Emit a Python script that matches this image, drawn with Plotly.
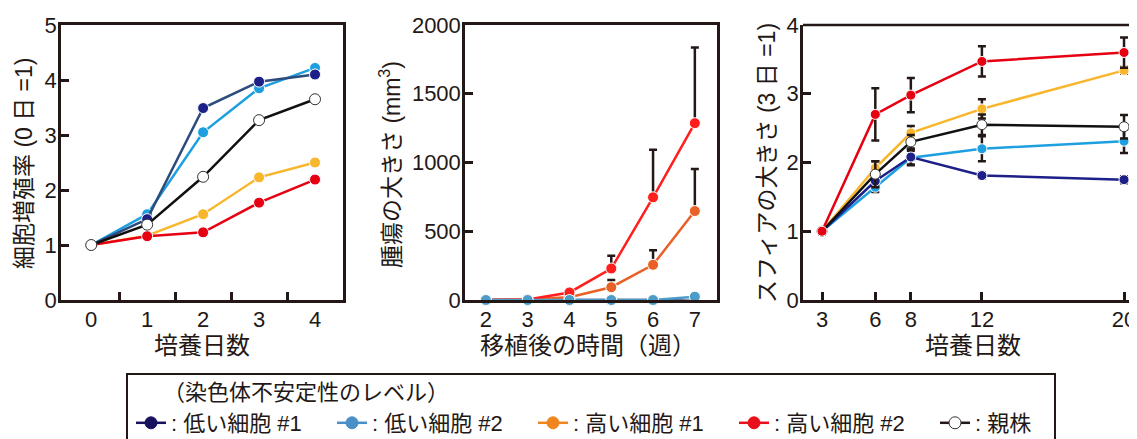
import plotly.graph_objects as go

# ---------------- data ----------------
# Panel 1: cell proliferation (day 0 = 1)
days1 = [0, 1, 2, 3, 4]
p1_low1 = [1.0, 1.47, 3.49, 3.97, 4.10]
p1_low2 = [1.0, 1.56, 3.05, 3.85, 4.22]
p1_high1 = [1.0, 1.17, 1.56, 2.23, 2.50]
p1_high2 = [1.0, 1.16, 1.23, 1.77, 2.19]
p1_parent = [1.0, 1.37, 2.24, 3.27, 3.65]

# Panel 2: tumour size (mm3) after transplantation (weeks)
weeks = [2, 3, 4, 5, 6, 7]
p2_low1 = [0, 0, 0, 0, 0, -8]
p2_low2 = [0, 0, 0, 0, 0, 24]
p2_high1 = [0, 5, 20, 93, 256, 647]
p2_high2 = [0, 3, 55, 229, 747, 1286]
p2_high1_err = [0, 0, 0, 53, 105, 305]
p2_high2_err = [0, 0, 0, 93, 346, 551]

# Panel 3: sphere size (day 3 = 1)
days3 = [3, 6, 8, 12, 20]
p3_low1 = [1.0, 1.73, 2.08, 1.81, 1.75]
p3_low2 = [1.0, 1.64, 2.07, 2.20, 2.31]
p3_high1 = [1.0, 1.92, 2.43, 2.78, 3.34]
p3_high2 = [1.0, 2.70, 2.98, 3.47, 3.60]
p3_parent = [1.0, 1.83, 2.30, 2.55, 2.52]
p3_low1_err = [0.03, 0.05, 0.12, 0.04, 0.05]
p3_low2_err = [0.03, 0.07, 0.10, 0.18, 0.17]
p3_high1_err = [0.03, 0.10, 0.10, 0.14, 0.05]
p3_high2_err = [0.03, 0.38, 0.25, 0.22, 0.22]
p3_parent_err = [0.04, 0.19, 0.10, 0.15, 0.17]

legend_names = [": 低い細胞 #1", ": 低い細胞 #2", ": 高い細胞 #1", ": 高い細胞 #2", ": 親株"]
legend_title = "（染色体不安定性のレベル）"

# ---------------- style ----------------
FONT = "Liberation Sans, Arial, Noto Sans CJK JP"
AX = "#231815"
NAVY = "#1d2088"
NAVY_LINE1 = "#2d4b7c"
LBLUE = "#1ea0e0"
YEL = "#f8b62d"
RED = "#e60012"
P2_RED = "#ff1e1e"
P2_ORG = "#ea6127"
P2_BLUE = "#4b9cc8"
P2_NAVY = "#0c0c55"
LG_COLORS = ["#18125e", "#4a90c8", "#f0841e", "#e8101a", "#231815"]

fig = go.Figure()


def line_trace(x, y, color, xa, ya, mcolor=None, size=10, err=None, errminus=None,
               open_marker=False):
    mk = dict(size=size, color="white" if open_marker else (mcolor or color),
              line=dict(width=1, color="#333333" if open_marker else "white"))
    tr = dict(x=x, y=y, mode="lines+markers", line=dict(color=color, width=2.5),
              marker=mk, xaxis=xa, yaxis=ya, showlegend=False, cliponaxis=False,
              hoverinfo="skip")
    if err is not None:
        ed = dict(type="data", array=err, color=AX, thickness=2.5, width=4, visible=True)
        if errminus is not None:
            ed["symmetric"] = False
            ed["arrayminus"] = errminus
        tr["error_y"] = ed
    return go.Scatter(**tr)


# Panel 1
fig.add_trace(line_trace(days1, p1_high1, YEL, "x", "y", size=11))
fig.add_trace(line_trace(days1, p1_high2, RED, "x", "y", size=11))
fig.add_trace(line_trace(days1, p1_low2, LBLUE, "x", "y", size=11))
fig.add_trace(line_trace(days1, p1_low1, NAVY_LINE1, "x", "y", mcolor=NAVY, size=11))
fig.add_trace(line_trace(days1, p1_parent, "#111111", "x", "y", open_marker=True, size=11))

# Panel 2
zeros = [0] * len(weeks)
fig.add_trace(line_trace(weeks, p2_low1, P2_NAVY, "x2", "y2", size=11))
fig.add_trace(line_trace(weeks, p2_high1, P2_ORG, "x2", "y2", size=11,
                         err=p2_high1_err, errminus=zeros))
fig.add_trace(line_trace(weeks, p2_high2, P2_RED, "x2", "y2", size=11,
                         err=p2_high2_err, errminus=zeros))
fig.add_trace(line_trace(weeks, p2_low2, P2_BLUE, "x2", "y2", size=11))

# Panel 3
fig.add_trace(line_trace(days3, p3_low2, LBLUE, "x3", "y3", err=p3_low2_err))
fig.add_trace(line_trace(days3, p3_low1, NAVY, "x3", "y3", err=p3_low1_err))
fig.add_trace(line_trace(days3, p3_high1, YEL, "x3", "y3", err=p3_high1_err))
fig.add_trace(line_trace(days3, p3_parent, "#111111", "x3", "y3", err=p3_parent_err,
                         open_marker=True))
fig.add_trace(line_trace(days3, p3_high2, RED, "x3", "y3", err=p3_high2_err))

# Legend-only entries
for i, (nm, c) in enumerate(zip(legend_names, LG_COLORS)):
    is_open = i == 4
    fig.add_trace(go.Scatter(
        x=[None], y=[None], mode="lines+markers", name=nm,
        line=dict(color=c, width=2.5),
        marker=dict(size=12, color="white" if is_open else c,
                    line=dict(width=1, color="#333333" if is_open else c)),
        xaxis="x2", yaxis="y2", showlegend=True))

# page offset (body margin) of 8 px
OFF = 8
W, H = 1137 - OFF, 439 - OFF
MT = 25 - OFF
PB = 300 - OFF
MB = H - PB
PH = PB - MT


def px(xpix):
    return (xpix - OFF) / W


def py(ypix):
    return (PB - (ypix - OFF)) / PH


tickfont = dict(family=FONT, size=22, color=AX)
axis_common = dict(showline=True, linecolor=AX, linewidth=2.5, showgrid=False,
                   zeroline=False, tickfont=tickfont, tickcolor=AX, tickwidth=2.5,
                   fixedrange=True)
xcommon = dict(ticklabelstandoff=-2, **axis_common)
ycommon = dict(ticklabelstandoff=-3, **axis_common)

fig.update_layout(
    width=W, height=H,
    margin=dict(l=0, r=0, t=MT, b=MB, autoexpand=False),
    paper_bgcolor="white", plot_bgcolor="white",
    font=dict(family=FONT, size=22, color=AX),
    xaxis=dict(domain=[px(61), px(343)], range=[-0.54, 4.5], anchor="y",
               tickvals=days1, ticks="", mirror=True,
               minor=dict(tickvals=[0.5, 1.5, 2.5, 3.5], ticks="inside", ticklen=8,
                          tickwidth=2.5, tickcolor=AX, showgrid=False),
               **xcommon),
    yaxis=dict(domain=[0, 1], range=[0, 5], anchor="x", tickvals=[0, 1, 2, 3, 4, 5],
               ticks="inside", ticklen=8, mirror=True, **ycommon),
    xaxis2=dict(domain=[px(465), px(717)], range=[1.5, 7.53], anchor="y2",
                tickvals=weeks, ticks="", mirror=True, **xcommon),
    yaxis2=dict(domain=[0, 1], range=[0, 2000], anchor="x2",
                tickvals=[0, 500, 1000, 1500, 2000], ticks="inside", ticklen=8,
                mirror=True, **ycommon),
    xaxis3=dict(domain=[px(803), 1], range=[1.93, 20.73], anchor="y3",
                tickvals=days3, ticks="inside", ticklen=8, **xcommon),
    yaxis3=dict(domain=[0, 1], range=[0, 4], anchor="x3", tickvals=[0, 1, 2, 3, 4],
                ticks="inside", ticklen=8, **ycommon),
    legend=dict(orientation="h", x=px(131), xanchor="left", y=py(423), yanchor="middle",
                entrywidth=156, entrywidthmode="pixels", itemwidth=30,
                font=dict(family=FONT, size=22, color=AX), bgcolor="rgba(0,0,0,0)"),
)

# top border of panel 3 (open on the right)
fig.add_shape(type="line", xref="x3 domain", yref="y3 domain", x0=0, x1=1, y0=1, y1=1,
              line=dict(color=AX, width=2.5))
# legend box
fig.add_shape(type="rect", xref="paper", yref="paper", x0=px(127), x1=px(1055),
              y0=py(374), y1=py(450), line=dict(color=AX, width=2), fillcolor="rgba(0,0,0,0)")

title_font = dict(family=FONT, size=23, color=AX)
xtitle_font = dict(family=FONT, size=24, color=AX)
annos = [
    dict(text="細胞増殖率 (0 日 =1)", x=px(24), y=py(163), textangle=-90, font=title_font),
    dict(text="腫瘍の大きさ (mm<sup>3</sup>)", x=px(390), y=py(165), textangle=-90,
         font=title_font),
    dict(text="スフィアの大きさ (3 日 =1)", x=px(767), y=py(163), textangle=-90,
         font=title_font),
    dict(text="培養日数", x=px(202), y=py(345), font=xtitle_font),
    dict(text="移植後の時間（週）", x=px(588), y=py(345), font=xtitle_font),
    dict(text="培養日数", x=px(973), y=py(345), font=xtitle_font),
]
for a in annos:
    fig.add_annotation(xref="paper", yref="paper", showarrow=False,
                       xanchor="center", yanchor="middle", **a)
fig.add_annotation(text=legend_title, xref="paper", yref="paper", x=px(161), y=py(392),
                   xanchor="left", yanchor="middle", showarrow=False,
                   font=dict(family=FONT, size=22, color=AX))

fig.write_html("out.html")
